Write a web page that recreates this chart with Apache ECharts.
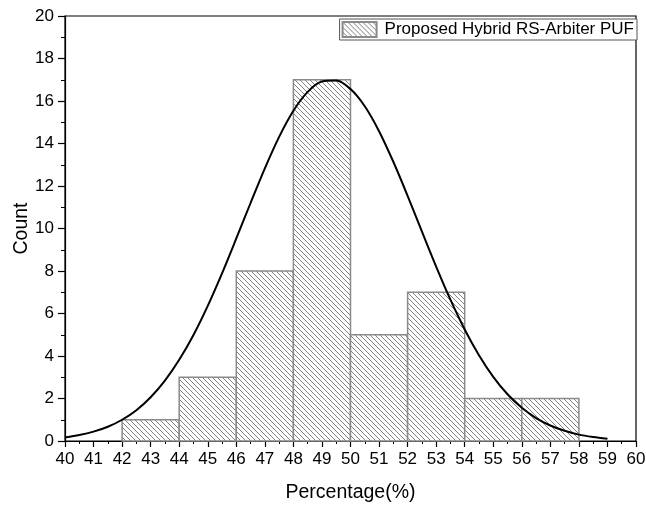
<!DOCTYPE html>
<html>
<head>
<meta charset="utf-8">
<script src="https://cdn.jsdelivr.net/npm/echarts@6/dist/echarts.min.js"></script>
<style>
  html, body { margin: 0; padding: 0; background: #fff; }
  #chart { width: 646px; height: 507px; }
</style>
</head>
<body>
<div id="chart"></div>
<script>
// histogram bins
const binLo = [42, 44, 46, 48, 50, 52, 54, 56];
const binHi = [44, 46, 48, 50, 52, 54, 56, 58];
const counts = [1, 3, 8, 17, 5, 7, 2, 2];

// fitted normal curve
const curveX = [40, 40.5, 41, 41.5, 42, 42.5, 43, 43.5, 44, 44.5, 45, 45.5, 46, 46.5, 47, 47.5,
  48, 48.5, 49, 49.5, 50, 50.5, 51, 51.5, 52, 52.5, 53, 53.5, 54, 54.5, 55, 55.5, 56, 56.5,
  57, 57.5, 58, 58.5, 59];
const curveY = [0.17, 0.28, 0.44, 0.67, 1.0, 1.45, 2.06, 2.84, 3.82, 4.99, 6.36, 7.89, 9.53, 11.2,
  12.83, 14.31, 15.54, 16.43, 16.92, 16.96, 16.56, 15.75, 14.58, 13.14, 11.54, 9.86, 8.21, 6.65,
  5.25, 4.04, 3.02, 2.2, 1.56, 1.08, 0.73, 0.48, 0.3, 0.19, 0.11];

const seriesName = "Proposed Hybrid RS-Arbiter PUF";

function makeHatch() {
  const size = 5;
  const c = document.createElement("canvas");
  c.width = size;
  c.height = size;
  const ctx = c.getContext("2d");
  ctx.fillStyle = "#fff";
  ctx.fillRect(0, 0, size, size);
  ctx.strokeStyle = "#808080";
  ctx.lineWidth = 1;
  ctx.beginPath();
  ctx.moveTo(-1, -1); ctx.lineTo(size + 1, size + 1);
  ctx.moveTo(-1, size - 1); ctx.lineTo(1, size + 1);
  ctx.moveTo(size - 1, -1); ctx.lineTo(size + 1, 1);
  ctx.stroke();
  return c;
}
const hatch = { image: makeHatch(), repeat: "repeat" };

const font = "Liberation Sans, Arial, sans-serif";
const chart = echarts.init(document.getElementById("chart"));

chart.setOption({
  animation: false,
  grid: {
    left: 65, right: 10, top: 16, bottom: 66,
    outerBoundsMode: "none",
    containLabel: false,
    show: true, borderColor: "#000", borderWidth: 1.2, backgroundColor: "transparent"
  },
  legend: {
    data: [{ name: seriesName, icon: "rect" }],
    right: 9, top: 19,
    itemWidth: 34, itemHeight: 15, itemGap: 6,
    padding: [2, 3, 2, 2],
    borderColor: "#555", borderWidth: 1, borderRadius: 0,
    backgroundColor: "#fff",
    textStyle: { fontFamily: font, fontSize: 17, color: "#000", padding: [0, 0, 0, 3] }
  },
  xAxis: {
    type: "value",
    min: 40, max: 60, interval: 1,
    name: "Percentage(%)",
    nameLocation: "middle",
    nameGap: 42,
    nameMoveOverlap: false,
    nameTextStyle: { fontFamily: font, fontSize: 19.5, color: "#000" },
    axisLine: { lineStyle: { color: "#000", width: 1.2 } },
    axisTick: { show: true, length: 6, lineStyle: { color: "#000", width: 1.2 } },
    minorTick: { show: true, splitNumber: 2, length: 3, lineStyle: { color: "#000", width: 1 } },
    axisLabel: { fontFamily: font, fontSize: 17, color: "#000", margin: 10 },
    splitLine: { show: false }
  },
  yAxis: {
    type: "value",
    min: 0, max: 20, interval: 2,
    name: "Count",
    nameLocation: "middle",
    nameGap: 33,
    nameMoveOverlap: false,
    nameTextStyle: { fontFamily: font, fontSize: 19.5, color: "#000" },
    axisLine: { show: true, lineStyle: { color: "#000", width: 1.2 } },
    axisTick: { show: true, length: 7, lineStyle: { color: "#000", width: 1.2 } },
    minorTick: { show: true, splitNumber: 2, length: 4, lineStyle: { color: "#000", width: 1 } },
    axisLabel: { fontFamily: font, fontSize: 17, color: "#000", margin: 11 },
    splitLine: { show: false }
  },
  series: [
    {
      name: seriesName,
      type: "custom",
      itemStyle: { color: hatch, borderColor: "#8a8a8a", borderWidth: 1.5 },
      encode: { x: [0, 1], y: 2 },
      data: binLo.map((lo, i) => [lo, binHi[i], counts[i]]),
      renderItem: (params, api) => {
        const p0 = api.coord([api.value(0), api.value(2)]);
        const p1 = api.coord([api.value(1), 0]);
        return {
          type: "rect",
          shape: { x: p0[0], y: p0[1], width: p1[0] - p0[0], height: p1[1] - p0[1] },
          style: { fill: hatch, stroke: "#8a8a8a", lineWidth: 1.5 }
        };
      }
    },
    {
      name: "fit",
      type: "line",
      smooth: 0.3,
      showSymbol: false,
      symbol: "none",
      z: 5,
      lineStyle: { color: "#000", width: 2 },
      data: curveX.map((x, i) => [x, curveY[i]])
    }
  ]
});
</script>
</body>
</html>
